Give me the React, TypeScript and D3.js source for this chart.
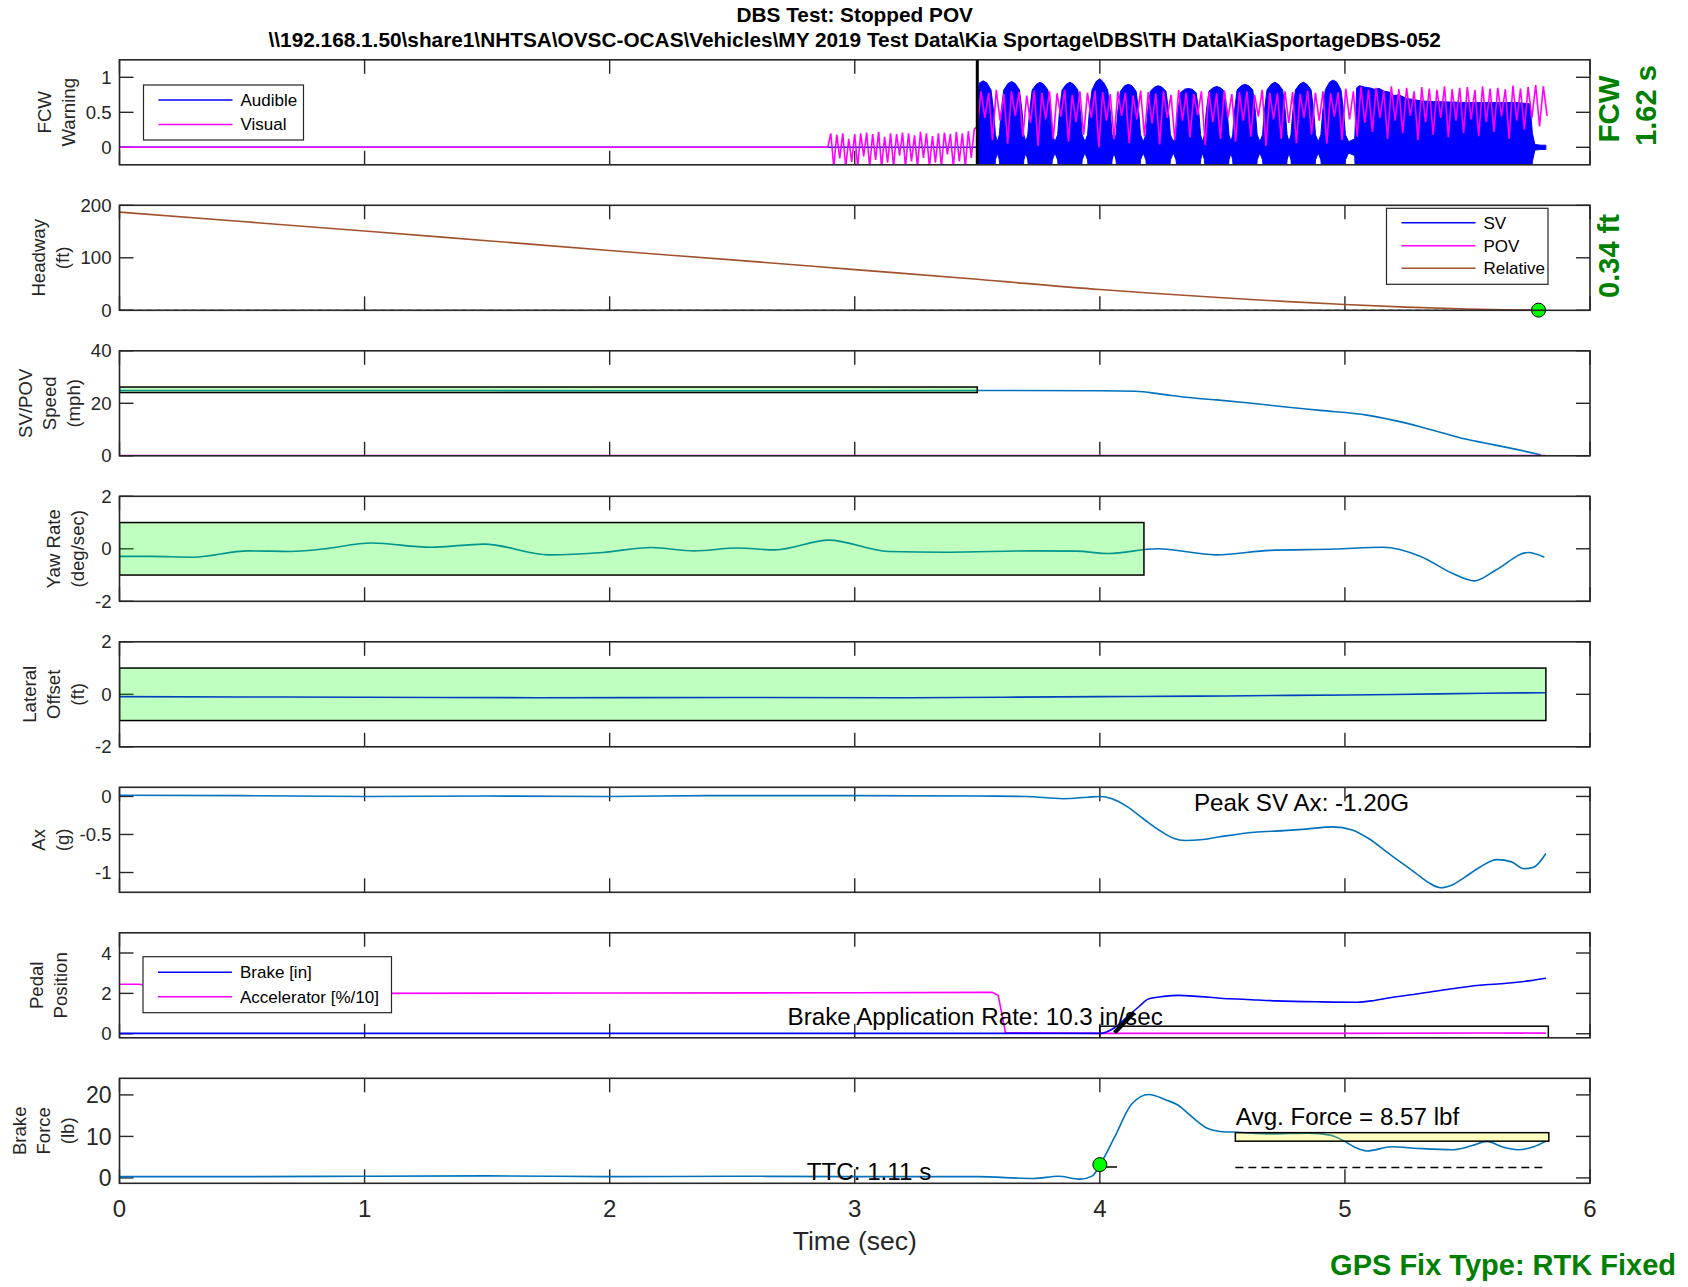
import React from "react";
import * as d3 from "d3";

const FONT = "'Liberation Sans', Arial, Helvetica, sans-serif";
const AX = "#262626";
const LINE_BLUE = "#0072BD";
const BLUE = "#0000FF";
const MAG = "#FF00FF";
const BROWN = "#A0522D";
const GREEN_TXT = "#008000";

// ---------------- DATA ----------------
const timeTicks = [0, 1, 2, 3, 4, 5, 6];
const titleLines = [
  "DBS Test: Stopped POV",
  "\\\\192.168.1.50\\share1\\NHTSA\\OVSC-OCAS\\Vehicles\\MY 2019 Test Data\\Kia Sportage\\DBS\\TH Data\\KiaSportageDBS-052",
];

// FCW warning
const fcwOnsetTime = 3.5;
const fcwAudibleIdle = [[0, 0], [3.5, 0]];
const fcwAudibleEnvelope = [
  [3.5, 0.0], [3.501, 0.7], [3.509, 0.92], [3.524, 0.95], [3.539, 0.92], [3.556, 0.82], [3.567, 0.5], [3.574, 0.18], [3.582, 0.08],
  [3.59, 0.18], [3.597, 0.5], [3.608, 0.82], [3.625, 0.91], [3.64, 0.94], [3.655, 0.91], [3.672, 0.82], [3.683, 0.5], [3.69, 0.18], [3.698, 0.08],
  [3.706, 0.18], [3.713, 0.5], [3.724, 0.82], [3.741, 0.9], [3.756, 0.93], [3.771, 0.9], [3.788, 0.82], [3.799, 0.5], [3.806, 0.18], [3.817, 0.08],
  [3.828, 0.18], [3.835, 0.5], [3.846, 0.82], [3.863, 0.9], [3.878, 0.93], [3.893, 0.9], [3.91, 0.82], [3.921, 0.5], [3.928, 0.18], [3.939, 0.08],
  [3.95, 0.18], [3.957, 0.5], [3.968, 0.82], [3.985, 0.94], [4.0, 0.98], [4.015, 0.93], [4.032, 0.82], [4.043, 0.5], [4.05, 0.18], [4.058, 0.08],
  [4.066, 0.18], [4.073, 0.5], [4.084, 0.8], [4.101, 0.88], [4.116, 0.9], [4.131, 0.88], [4.148, 0.8], [4.159, 0.5], [4.166, 0.18], [4.177, 0.08],
  [4.188, 0.18], [4.195, 0.5], [4.206, 0.8], [4.223, 0.86], [4.238, 0.88], [4.253, 0.86], [4.27, 0.8], [4.281, 0.5], [4.288, 0.18], [4.3, 0.08],
  [4.311, 0.18], [4.318, 0.5], [4.329, 0.78], [4.346, 0.83], [4.361, 0.84], [4.376, 0.83], [4.393, 0.78], [4.404, 0.5], [4.411, 0.18], [4.419, 0.08],
  [4.427, 0.18], [4.434, 0.5], [4.445, 0.8], [4.462, 0.85], [4.477, 0.87], [4.492, 0.85], [4.509, 0.8], [4.52, 0.5], [4.527, 0.18], [4.535, 0.08],
  [4.542, 0.18], [4.549, 0.5], [4.56, 0.82], [4.577, 0.88], [4.592, 0.9], [4.607, 0.88], [4.624, 0.82], [4.635, 0.5], [4.642, 0.18], [4.653, 0.08],
  [4.664, 0.18], [4.671, 0.5], [4.682, 0.82], [4.699, 0.9], [4.714, 0.93], [4.729, 0.9], [4.746, 0.82], [4.757, 0.5], [4.764, 0.18], [4.772, 0.08],
  [4.78, 0.18], [4.787, 0.5], [4.798, 0.82], [4.815, 0.9], [4.83, 0.93], [4.845, 0.9], [4.862, 0.82], [4.873, 0.5], [4.88, 0.18], [4.891, 0.08],
  [4.902, 0.18], [4.909, 0.5], [4.92, 0.82], [4.937, 0.93], [4.952, 0.96], [4.967, 0.93], [4.984, 0.82], [4.995, 0.5], [5.002, 0.18], [5.015, 0.08],
  [5.04, 0.12], [5.048, 0.85], [5.06, 0.88], [5.08, 0.86], [5.1, 0.85], [5.12, 0.83], [5.14, 0.84], [5.16, 0.8],
  [5.18, 0.79], [5.2, 0.74], [5.22, 0.75], [5.25, 0.7], [5.28, 0.68], [5.32, 0.66], [5.4, 0.65], [5.5, 0.64],
  [5.6, 0.64], [5.7, 0.64], [5.755, 0.62], [5.765, 0.2], [5.775, 0.04], [5.8, 0.03], [5.82, 0.03],
];
const fcwVisualIdle = [[0, 0], [2.89, 0]];
const fcwVisualPreStart = 2.89;
const fcwVisualPreStep = 0.0122;
const fcwVisualPre = [
  0, 0.2, -0.28, 0.18, -0.16, 0.2, -0.28, 0.12, -0.21, 0.19, -0.28, 0.2, -0.13, 0.21, -0.28, 0.19, -0.18, 0.22,
  -0.28, 0.15, -0.22, 0.2, -0.28, 0.19, -0.12, 0.21, -0.28, 0.2, -0.2, 0.17, -0.28, 0.22, -0.15, 0.2, -0.28, 0.16,
  -0.22, 0.2, -0.28, 0.21, -0.1, 0.19, -0.28, 0.22, -0.2, 0.2, -0.28, 0.23, -0.15, 0.26,
];
const fcwVisualPostStart = 3.5;
const fcwVisualPostStep = 0.0155;
const fcwVisualPost = [
  0.3,
  0.8, 0.42, 0.78, 0.1, 0.82, 0.38, 0.76, 0.05, 0.8, 0.45, 0.79, 0.15, 0.74, 0.35, 0.81, 0.02,
  0.78, 0.4, 0.8, 0.12, 0.77, 0.44, 0.82, 0.08, 0.75, 0.36, 0.8, 0.18, 0.78, 0.42, 0.81, 0.0,
  0.79, 0.38, 0.76, 0.12, 0.8, 0.45, 0.78, 0.06, 0.74, 0.4, 0.81, 0.16, 0.79, 0.34, 0.77, 0.04,
  0.8, 0.42, 0.75, 0.1, 0.82, 0.38, 0.78, 0.14, 0.76, 0.46, 0.8, 0.03, 0.79, 0.36, 0.77, 0.12,
  0.81, 0.42, 0.76, 0.08, 0.79, 0.38, 0.8, 0.15, 0.75, 0.44, 0.82, 0.02, 0.78, 0.4, 0.77, 0.12,
  0.8, 0.35, 0.79, 0.06, 0.76, 0.42, 0.81, 0.18, 0.78, 0.38, 0.8, 0.05, 0.77, 0.44, 0.79, 0.1,
  0.84, 0.4, 0.8, 0.15, 0.86, 0.35, 0.82, 0.22, 0.85, 0.42, 0.81, 0.12, 0.87, 0.38, 0.83, 0.2,
  0.85, 0.45, 0.8, 0.1, 0.86, 0.36, 0.84, 0.18, 0.82, 0.42, 0.87, 0.14, 0.83, 0.38, 0.85, 0.2,
  0.86, 0.4, 0.82, 0.16, 0.87, 0.36, 0.84, 0.22, 0.85, 0.44, 0.83, 0.12, 0.88, 0.38, 0.84, 0.25,
  0.86, 0.42, 0.89, 0.3, 0.87, 0.45,
];
const fcwLabel = ["FCW", "1.62 s"];

// Headway (ft)
const headwayRelative = [
  [0, 187], [0.5, 169], [1, 151], [1.5, 132.5], [2, 114], [2.5, 96], [3, 77.5], [3.5, 59], [4, 39.5],
  [4.2, 33], [4.5, 24], [4.75, 17], [5, 11], [5.25, 6], [5.5, 2.5], [5.65, 1.0], [5.79, 0.34],
];
const headwayZero = [[0, 0], [5.79, 0]];
const headwayEnd = [5.79, 0.34];
const headwayLabel = "0.34 ft";

// Speed (mph)
const speedSV = [
  [0, 24.9], [1, 24.9], [2, 24.8], [3, 24.8], [3.5, 24.9], [4.0, 24.8], [4.146, 24.6], [4.25, 23.5],
  [4.35, 22.3], [4.475, 21.3], [4.6, 20.2], [4.74, 18.8], [4.9, 17.3], [5.09, 15.5], [5.2, 13.5],
  [5.31, 11.0], [5.4, 8.7], [5.486, 6.5], [5.57, 4.9], [5.66, 3.2], [5.74, 1.6], [5.8, 0.3],
];
const speedPOV = [[0, 0], [5.82, 0]];
const speedBand = [0, 3.5, 24.1, 26.2];

// Yaw rate (deg/sec)
const yawRate = [
  [0, -0.29], [0.127, -0.29], [0.302, -0.32], [0.523, -0.08], [0.698, -0.1], [0.83, -0.01], [1.028, 0.22],
  [1.269, 0.06], [1.489, 0.18], [1.752, -0.23], [1.972, -0.14], [2.17, 0.05], [2.345, -0.08], [2.52, 0.03],
  [2.675, -0.04], [2.894, 0.33], [3.136, -0.1], [3.377, -0.13], [3.729, -0.08], [3.904, -0.09], [4.036, -0.18],
  [4.234, 0.0], [4.475, -0.23], [4.695, -0.06], [4.958, -0.01], [5.155, 0.06], [5.309, -0.29], [5.44, -0.94],
  [5.528, -1.22], [5.616, -0.81], [5.748, -0.14], [5.814, -0.32],
];
const yawBand = [0, 4.18, -1, 1];

// Lateral offset (ft)
const lateralOffset = [
  [0, -0.09], [0.5, -0.1], [1.0, -0.11], [1.7, -0.13], [2.5, -0.12], [3.16, -0.13], [3.6, -0.11],
  [4.0, -0.09], [4.4, -0.07], [4.78, -0.04], [5.2, -0.01], [5.57, 0.04], [5.82, 0.06],
];
const lateralBand = [0, 5.82, -1, 1];

// Ax (g)
const axSV = [
  [0, 0.015], [0.5, 0.01], [1.0, 0.0], [1.5, 0.005], [2.0, 0.0], [2.4, 0.01], [3.0, 0.01], [3.5, 0.005],
  [3.7, 0.0], [3.85, -0.03], [3.95, -0.01], [4.0, 0.0], [4.05, -0.03], [4.11, -0.13], [4.18, -0.3],
  [4.25, -0.46], [4.3, -0.55], [4.35, -0.58], [4.41, -0.57], [4.49, -0.53], [4.63, -0.47], [4.75, -0.45],
  [4.84, -0.43], [4.95, -0.4], [5.03, -0.44], [5.1, -0.56], [5.17, -0.73], [5.23, -0.87], [5.29, -1.01],
  [5.34, -1.13], [5.39, -1.2], [5.44, -1.16], [5.49, -1.06], [5.55, -0.93], [5.62, -0.83], [5.68, -0.86],
  [5.73, -0.95], [5.77, -0.93], [5.82, -0.75],
];

// Pedal position
const pedalBrake = [
  [0, 0.02], [4.0, 0.02], [4.06, 0.3], [4.11, 0.82], [4.16, 1.35], [4.2, 1.73], [4.26, 1.85], [4.32, 1.9],
  [4.4, 1.85], [4.49, 1.76], [4.6, 1.7], [4.72, 1.63], [4.9, 1.58], [5.05, 1.56], [5.12, 1.65], [5.19, 1.8],
  [5.3, 1.98], [5.43, 2.22], [5.55, 2.4], [5.66, 2.5], [5.75, 2.62], [5.82, 2.75],
];
const pedalAccel = [
  [0, 2.45], [0.08, 2.45], [0.2, 2.2], [0.35, 2.03], [1.0, 2.0], [2.0, 2.02], [3.0, 2.03], [3.56, 2.05],
  [3.585, 1.9], [3.6, 1.0], [3.615, 0.05], [4.0, 0.02], [5.0, 0.02], [5.6, 0.04], [5.82, 0.03],
];
const pedalWindow = [4.0, 5.83, -0.2, 0.375];
const brakeRateSlash = [[4.06, 0.05], [4.14, 1.05]];

// Brake force (lb)
const brakeForce = [
  [0, 0.3], [0.5, 0.3], [1.0, 0.4], [1.5, 0.5], [2.0, 0.3], [2.5, 0.4], [3.0, 0.3], [3.5, 0.3], [3.73, -0.15],
  [3.83, 0.4], [3.92, -0.3], [3.97, 0.5], [4.0, 3.1], [4.06, 9.8], [4.13, 17.8], [4.2, 20.1], [4.27, 18.8],
  [4.32, 17.5], [4.37, 15], [4.44, 11.9], [4.49, 11.2], [4.56, 11.0], [4.7, 10.6], [4.85, 10.8], [4.94, 10.3],
  [4.99, 9.1], [5.04, 7.4], [5.09, 6.5], [5.19, 7.5], [5.3, 7.1], [5.44, 6.8], [5.52, 7.8], [5.58, 8.8],
  [5.64, 7.5], [5.71, 6.8], [5.77, 7.5], [5.82, 8.8],
];
const forceAvgBand = [4.553, 5.832, 8.85, 10.9];
const forceDashed = [[4.553, 2.5], [5.82, 2.5]];
const ttcMarker = [4.0, 3.2];
const ttcTick = [[4.0, 2.65], [4.07, 2.65]];

const annotations = [
  { panel: 5, t: 4.384, v: -0.19, text: "Peak SV Ax: -1.20G" },
  { panel: 6, t: 2.726, v: 0.41, text: "Brake Application Rate: 10.3 in/sec" },
  { panel: 7, t: 2.804, v: -0.4, text: "TTC: 1.11 s" },
  { panel: 7, t: 4.555, v: 12.7, text: "Avg. Force = 8.57 lbf" },
];

// ---------------- LAYOUT ----------------
const W = 1688;
const H = 1287;
const X0 = 119.5;
const X1 = 1590;
const P_TOP0 = 59.8;
const P_STEP = 145.5;
const P_H = 105;
const TICK = 14;
const LSP = 23.8;
const YLABEL_FS = 18.6;

const panels = [
  { domain: [-0.25, 1.25], ticks: [0, 0.5, 1], fs: 18.6, label: ["FCW", "Warning"], labelX: 68 },
  { domain: [0, 200], ticks: [0, 100, 200], fs: 18.6, label: ["Headway", "(ft)"], labelX: 62.4 },
  { domain: [0, 40], ticks: [0, 20, 40], fs: 18.6, label: ["SV/POV", "Speed", "(mph)"], labelX: 73.2 },
  { domain: [-2, 2], ticks: [-2, 0, 2], fs: 18.6, label: ["Yaw Rate", "(deg/sec)"], labelX: 77.5 },
  { domain: [-2, 2], ticks: [-2, 0, 2], fs: 18.6, label: ["Lateral", "Offset", "(ft)"], labelX: 77.5 },
  { domain: [-1.26, 0.12], ticks: [-1, -0.5, 0], fs: 18.6, label: ["Ax", "(g)"], labelX: 62.4 },
  { domain: [-0.2, 5], ticks: [0, 2, 4], fs: 18.6, label: ["Pedal", "Position"], labelX: 60.3 },
  { domain: [-1.3, 24], ticks: [0, 10, 20], fs: 23, label: ["Brake", "Force", "(lb)"], labelX: 67 },
];

const x = d3.scaleLinear().domain([0, 6]).range([X0, X1]);
const yScales = panels.map((p, i) => {
  const top = P_TOP0 + i * P_STEP;
  return d3.scaleLinear().domain(p.domain).range([top + P_H, top]);
});

function pathOf(data: number[][], i: number, curve: any = d3.curveLinear) {
  const y = yScales[i];
  return d3.line<number[]>().x((d) => x(d[0])).y((d) => y(d[1])).curve(curve)(data) || "";
}

function Band({ i, b, fill }: { i: number; b: number[]; fill: string }) {
  const y = yScales[i];
  return (
    <rect
      x={x(b[0])}
      y={y(b[3])}
      width={x(b[1]) - x(b[0])}
      height={y(b[2]) - y(b[3])}
      fill={fill}
      fillOpacity={0.25}
      stroke="#000"
      strokeWidth={1.5}
    />
  );
}

function Legend({ x0, y0, w, h, entries }: any) {
  return (
    <g>
      <rect x={x0} y={y0} width={w} height={h} fill="#fff" stroke={AX} strokeWidth={1.2} />
      {entries.map((e: any, k: number) => (
        <g key={k}>
          <line x1={x0 + 15} x2={x0 + 89} y1={e.y} y2={e.y} stroke={e.color} strokeWidth={1.6} />
          <text x={x0 + 97} y={e.y} dy="0.35em" fontSize={17} fill="#000">
            {e.label}
          </text>
        </g>
      ))}
    </g>
  );
}

function Frame({ i }: { i: number }) {
  const p = panels[i];
  const y = yScales[i];
  const top = P_TOP0 + i * P_STEP;
  const n = p.label.length;
  return (
    <g>
      {timeTicks.map((t) => (
        <g key={t}>
          <line x1={x(t)} x2={x(t)} y1={top} y2={top + TICK} stroke={AX} strokeWidth={1.4} />
          <line x1={x(t)} x2={x(t)} y1={top + P_H} y2={top + P_H - TICK} stroke={AX} strokeWidth={1.4} />
        </g>
      ))}
      {p.ticks.map((v) => (
        <g key={v}>
          <line x1={X0} x2={X0 + TICK} y1={y(v)} y2={y(v)} stroke={AX} strokeWidth={1.4} />
          <line x1={X1} x2={X1 - TICK} y1={y(v)} y2={y(v)} stroke={AX} strokeWidth={1.4} />
          <text x={X0 - 8} y={y(v)} dy="0.36em" textAnchor="end" fontSize={p.fs} fill={AX}>
            {String(v)}
          </text>
        </g>
      ))}
      {p.label.map((s, k) => (
        <text
          key={k}
          transform={`translate(${p.labelX - (n - 1 - k) * LSP},${top + P_H / 2}) rotate(-90)`}
          textAnchor="middle"
          dy="0.35em"
          fontSize={YLABEL_FS}
          fill={AX}
        >
          {s}
        </text>
      ))}
    </g>
  );
}

export default function App() {
  const y0 = yScales[0];
  const fcwArea =
    d3
      .area<number[]>()
      .x((d) => x(d[0]))
      .y0((d) => y0(-d[1]))
      .y1((d) => y0(d[1]))(fcwAudibleEnvelope) || "";
  const visualPts: number[][] = [
    ...fcwVisualIdle,
    ...fcwVisualPre.map((v, k) => [fcwVisualPreStart + k * fcwVisualPreStep, v]),
    ...fcwVisualPost.map((v, k) => [fcwVisualPostStart + k * fcwVisualPostStep, v]),
  ];
  const smooth = d3.curveMonotoneX;
  const top = (i: number) => P_TOP0 + i * P_STEP;

  return (
    <svg
      width={W}
      height={H}
      viewBox={`0 0 ${W} ${H}`}
      style={{ position: "absolute", left: 0, top: 0, background: "#fff", fontFamily: FONT }}
    >
      <rect x={0} y={0} width={W} height={H} fill="#fff" />
      <defs>
        {panels.map((_, i) => (
          <clipPath id={`clip${i}`} key={i}>
            <rect x={X0} y={top(i)} width={X1 - X0} height={P_H} />
          </clipPath>
        ))}
      </defs>

      {/* Title */}
      <text x={(X0 + X1) / 2} y={22} textAnchor="middle" fontWeight="bold" fontSize={20.8} fill="#000">
        {titleLines[0]}
      </text>
      <text x={(X0 + X1) / 2} y={46.5} textAnchor="middle" fontWeight="bold" fontSize={20.8} fill="#000">
        {titleLines[1]}
      </text>

      {panels.map((_, i) => (
        <Frame i={i} key={i} />
      ))}

      {/* Panel 1: FCW */}
      <g clipPath="url(#clip0)">
        <path d={pathOf(fcwAudibleIdle, 0)} fill="none" stroke={BLUE} strokeWidth={1.5} />
        <path d={fcwArea} fill={BLUE} stroke={BLUE} strokeWidth={1} />
        <path d={pathOf(visualPts, 0)} fill="none" stroke={MAG} strokeWidth={1.6} />
        <line x1={x(fcwOnsetTime)} x2={x(fcwOnsetTime)} y1={top(0)} y2={top(0) + P_H} stroke="#000" strokeWidth={3} />
      </g>
      <Legend
        x0={143.5}
        y0={85}
        w={160}
        h={55}
        entries={[
          { label: "Audible", color: BLUE, y: 100 },
          { label: "Visual", color: MAG, y: 124.5 },
        ]}
      />

      {/* Panel 2: Headway */}
      <g clipPath="url(#clip1)">
        <path d={pathOf(headwayZero, 1)} fill="none" stroke="#000" strokeWidth={1.2} strokeDasharray="5,4" />
        <path d={pathOf(headwayRelative, 1, smooth)} fill="none" stroke={BROWN} strokeWidth={1.6} />
      </g>
      <circle cx={x(headwayEnd[0])} cy={yScales[1](headwayEnd[1])} r={7} fill="#00FF00" stroke="#000" strokeWidth={1} />
      <Legend
        x0={1386.5}
        y0={208.3}
        w={161.5}
        h={76}
        entries={[
          { label: "SV", color: BLUE, y: 222.7 },
          { label: "POV", color: MAG, y: 245.7 },
          { label: "Relative", color: BROWN, y: 268.3 },
        ]}
      />

      {/* Panel 3: Speed */}
      <g clipPath="url(#clip2)">
        <path d={pathOf(speedSV, 2, smooth)} fill="none" stroke={LINE_BLUE} strokeWidth={1.6} />
        <path d={pathOf(speedPOV, 2)} fill="none" stroke={MAG} strokeWidth={2} />
        <Band i={2} b={speedBand} fill="#00FF00" />
      </g>

      {/* Panel 4: Yaw */}
      <g clipPath="url(#clip3)">
        <path d={pathOf(yawRate, 3, smooth)} fill="none" stroke={LINE_BLUE} strokeWidth={1.6} />
        <Band i={3} b={yawBand} fill="#00FF00" />
      </g>

      {/* Panel 5: Lateral */}
      <g clipPath="url(#clip4)">
        <path d={pathOf(lateralOffset, 4, smooth)} fill="none" stroke={BLUE} strokeWidth={1.6} />
        <Band i={4} b={lateralBand} fill="#00FF00" />
      </g>

      {/* Panel 6: Ax */}
      <g clipPath="url(#clip5)">
        <path d={pathOf(axSV, 5, smooth)} fill="none" stroke={LINE_BLUE} strokeWidth={1.6} />
      </g>

      {/* Panel 7: Pedal */}
      <g clipPath="url(#clip6)">
        <path d={pathOf(pedalAccel, 6)} fill="none" stroke={MAG} strokeWidth={1.6} />
        <path d={pathOf(pedalBrake, 6, smooth)} fill="none" stroke={BLUE} strokeWidth={1.6} />
        <rect
          x={x(pedalWindow[0])}
          y={yScales[6](pedalWindow[3])}
          width={x(pedalWindow[1]) - x(pedalWindow[0])}
          height={yScales[6](pedalWindow[2]) - yScales[6](pedalWindow[3])}
          fill="none"
          stroke="#000"
          strokeWidth={1.5}
        />
        <path d={pathOf(brakeRateSlash, 6)} fill="none" stroke="#000" strokeWidth={4} />
      </g>
      <Legend
        x0={143}
        y0={956.7}
        w={248.5}
        h={56}
        entries={[
          { label: "Brake [in]", color: BLUE, y: 972.3 },
          { label: "Accelerator [%/10]", color: MAG, y: 996.7 },
        ]}
      />

      {/* Panel 8: Brake force */}
      <g clipPath="url(#clip7)">
        <path d={pathOf(brakeForce, 7, smooth)} fill="none" stroke={LINE_BLUE} strokeWidth={1.6} />
        <path d={pathOf(forceDashed, 7)} fill="none" stroke="#000" strokeWidth={1.4} strokeDasharray="8,5" />
        <Band i={7} b={forceAvgBand} fill="#FFFF00" />
        <path d={pathOf(ttcTick, 7)} fill="none" stroke="#000" strokeWidth={1.5} />
      </g>
      <circle cx={x(ttcMarker[0])} cy={yScales[7](ttcMarker[1])} r={7} fill="#00FF00" stroke="#000" strokeWidth={1} />

      {/* Frames on top */}
      {panels.map((_, i) => (
        <rect key={i} x={X0} y={top(i)} width={X1 - X0} height={P_H} fill="none" stroke={AX} strokeWidth={1.6} />
      ))}

      {/* Annotations */}
      {annotations.map((a, k) => (
        <text key={k} x={x(a.t)} y={yScales[a.panel](a.v)} fontSize={24.2} fill="#000">
          {a.text}
        </text>
      ))}

      {/* X axis labels */}
      {timeTicks.map((t) => (
        <text key={t} x={x(t)} y={1217} textAnchor="middle" fontSize={24} fill={AX}>
          {String(t)}
        </text>
      ))}
      <text x={(X0 + X1) / 2} y={1250} textAnchor="middle" fontSize={26.5} fill={AX}>
        Time (sec)
      </text>

      {/* Right-side green labels */}
      <text transform={`translate(1609,109) rotate(-90)`} textAnchor="middle" dy="0.35em" fontWeight="bold" fontSize={29.5} fill={GREEN_TXT}>
        {fcwLabel[0]}
      </text>
      <text transform={`translate(1646,105.5) rotate(-90)`} textAnchor="middle" dy="0.35em" fontWeight="bold" fontSize={29} fill={GREEN_TXT}>
        {fcwLabel[1]}
      </text>
      <text transform={`translate(1609,256) rotate(-90)`} textAnchor="middle" dy="0.35em" fontWeight="bold" fontSize={29} fill={GREEN_TXT}>
        {headwayLabel}
      </text>
      <text x={1676} y={1275} textAnchor="end" fontWeight="bold" fontSize={29} fill={GREEN_TXT}>
        GPS Fix Type: RTK Fixed
      </text>
    </svg>
  );
}
